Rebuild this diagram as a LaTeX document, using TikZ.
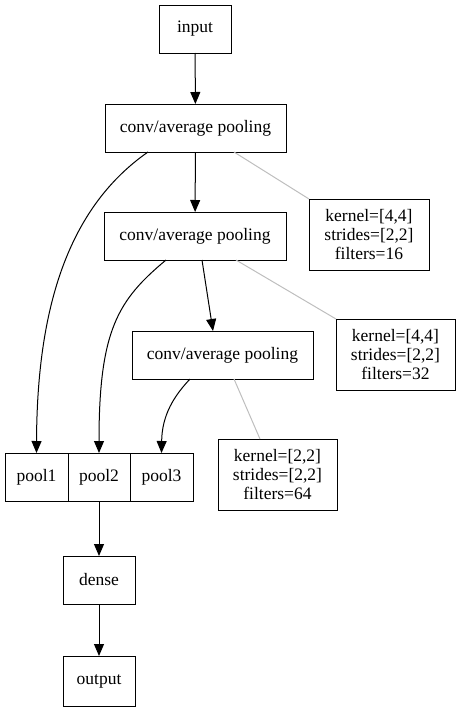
\documentclass[tikz,border=0pt]{standalone}
\usepackage{fontspec}
\setmainfont{Liberation Serif}
\usetikzlibrary{arrows.meta,calc}
\begin{document}
\begin{tikzpicture}[x=1pt,y=-1pt,
  box/.style={draw,line width=1pt,inner sep=0pt,outer sep=0pt,font=\fontsize{17.5}{19}\selectfont},
  infobox/.style={box,align=center},
  edge/.style={line width=1pt,-{Triangle[length=12pt,width=10pt]}},
  note/.style={line width=1pt,draw={rgb,255:red,190;green,190;blue,190}}]
\useasboundingbox (0,0) rectangle (461,712);
\node[box,minimum width=72pt,minimum height=48pt] (input) at (195,29) {input};
\node[box,minimum width=181pt,minimum height=48pt] (conv1) at (195.5,128) {conv/average pooling};
\node[box,minimum width=182pt,minimum height=48pt] (conv2) at (195,236) {conv/average pooling};
\node[box,minimum width=181pt,minimum height=48pt] (conv3) at (222.5,355) {conv/average pooling};
\node[infobox,minimum width=120pt,minimum height=71pt] (k1) at (369,234.5) {kernel=[4,4]\\ strides=[2,2]\\ filters=16};
\node[infobox,minimum width=119pt,minimum height=71pt] (k2) at (395.5,354.5) {kernel=[4,4]\\ strides=[2,2]\\ filters=32};
\node[infobox,minimum width=119pt,minimum height=71pt] (k3) at (277.5,474.5) {kernel=[2,2]\\ strides=[2,2]\\ filters=64};
\node[box,minimum width=63pt,minimum height=48pt] (pool1) at (36.5,477) {pool1};
\node[box,minimum width=62pt,minimum height=48pt] (pool2) at (99,477) {pool2};
\node[box,minimum width=63pt,minimum height=48pt] (pool3) at (161.5,477) {pool3};
\node[box,minimum width=72pt,minimum height=48pt] (dense) at (99,580) {dense};
\node[box,minimum width=72pt,minimum height=50pt] (output) at (99,681) {output};

\draw[edge] (input) -- (conv1);
\draw[edge] (conv1) -- (conv2);
\draw[edge] ($(conv2.south)+(7,0)$) -- ($(conv3.north)+(-9.5,0)$);
\draw[edge] ($(conv1.south)+(-47.5,0)$) .. controls (72,205) and (37,300) .. (pool1.north);
\draw[edge] ($(conv2.south)+(-29,0)$) .. controls (118,300) and (99,330) .. (pool2.north);
\draw[edge] ($(conv3.south)+(-32.5,0)$) .. controls (174,396) and (162,415) .. (pool3.north);
\draw[edge] (pool2) -- (dense);
\draw[edge] (dense) -- (output);

\draw[note] ($(conv1.south)+(38.5,0)$) -- (k1.north west);
\draw[note] ($(conv2.south)+(41,0)$) -- (k2.north west);
\draw[note] ($(conv3.south)+(11.5,0)$) -- ($(k3.north)+(-17.5,0)$);
\end{tikzpicture}
\end{document}
